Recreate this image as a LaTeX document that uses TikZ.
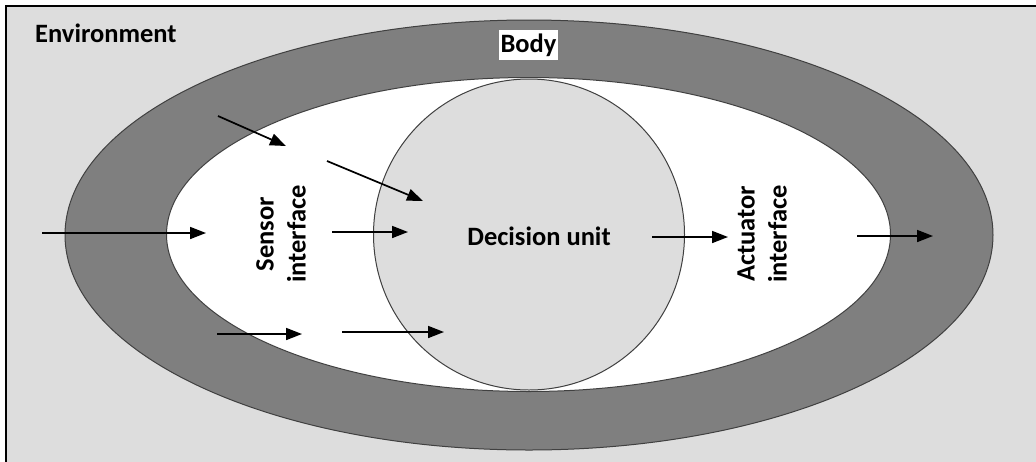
\documentclass[tikz,border=0pt]{standalone}
\usepackage{fontspec}
\setmainfont{Carlito}
\usetikzlibrary{arrows.meta}
\definecolor{envgray}{HTML}{DDDDDD}
\definecolor{bodygray}{HTML}{7F7F7F}
\definecolor{edgegray}{HTML}{404040}
\tikzset{
  label text/.style={font=\fontsize{26.5}{32}\selectfont\bfseries, inner sep=0pt},
  rim/.style={draw=edgegray, line width=1pt},
  flow/.style={line width=1.7pt, -{Triangle[length=16pt,width=12pt]}},
}
\begin{document}
\begin{tikzpicture}[x=1pt,y=-1pt]
  \clip (0,0) rectangle (1036,461);
  % environment frame, running past the page on the right and bottom
  \draw[fill=envgray, line width=2pt] (6,6) rectangle (1060,480);
  % body ring, inner space and decision unit
  \path[rim, fill=bodygray] (529,235) ellipse[x radius=464, y radius=215];
  \path[rim, fill=white] (528.5,234.5) ellipse[x radius=362, y radius=157];
  \path[rim, fill=envgray] (529,234.5) circle[radius=155.5];

  % labels
  \node[label text, anchor=west] (env) at (35,33) {Environment};
  \node[label text, fill=white, inner xsep=2pt, inner ysep=3.5pt] (body) at (528.5,45) {Body};
  \node[label text] (dec) at (539,236) {Decision unit};
  \node[label text, rotate=90, align=center] (sens) at (281,234) {Sensor\\interface};
  \node[label text, rotate=90, align=center] (act) at (762,234) {Actuator\\interface};

  % arrow end points
  \coordinate (a1) at (42,233);  \coordinate (b1) at (206,233);
  \coordinate (a2) at (218,116); \coordinate (b2) at (286,146);
  \coordinate (a3) at (327,161); \coordinate (b3) at (423,201);
  \coordinate (a4) at (332,232); \coordinate (b4) at (408,232);
  \coordinate (a5) at (217,334); \coordinate (b5) at (302,334);
  \coordinate (a6) at (342,332); \coordinate (b6) at (444,332);
  \coordinate (a7) at (652,237); \coordinate (b7) at (728,237);
  \coordinate (a8) at (857,236); \coordinate (b8) at (933,236);

  \foreach \i in {1,...,8} \draw[flow] (a\i) -- (b\i);
\end{tikzpicture}
\end{document}
